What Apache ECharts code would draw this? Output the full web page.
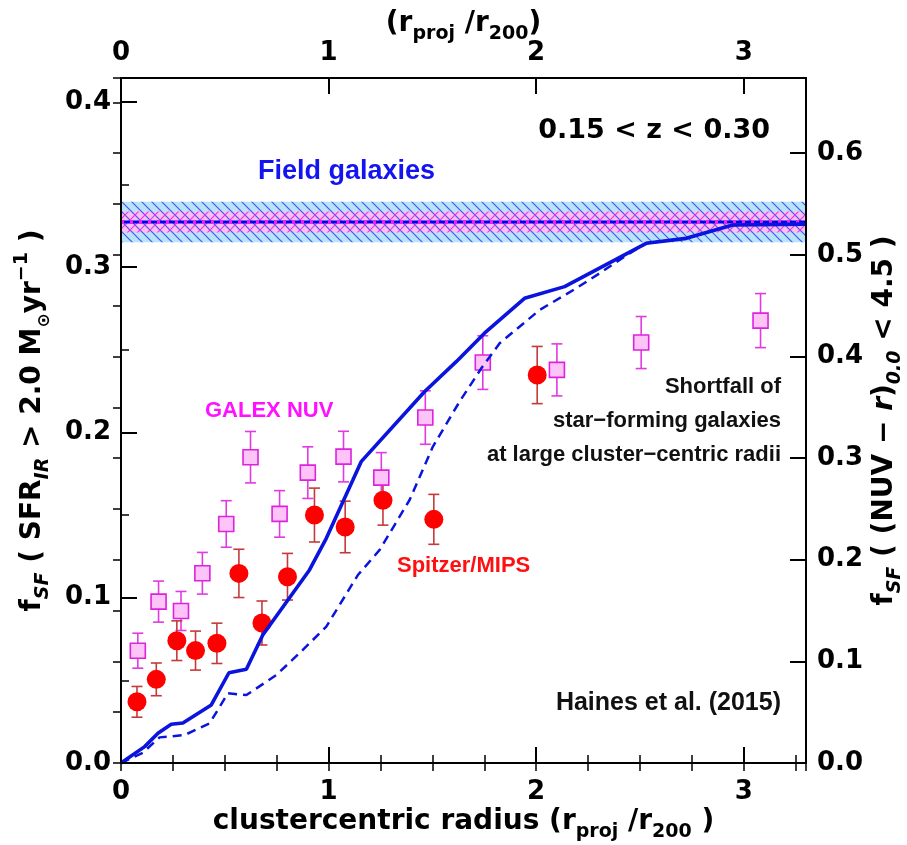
<!DOCTYPE html>
<html>
<head>
<meta charset="utf-8">
<script src="https://cdn.jsdelivr.net/npm/echarts@6/dist/echarts.min.js"></script>
<style>
html, body { margin: 0; padding: 0; background: #fff; }
#chart { width: 907px; height: 845px; }
</style>
</head>
<body>
<div id="chart"></div>
<script>
// axis ranges / ticks
var xMax = 3.3;
var xTicks = [0, 1, 2, 3];
var yLeftMax = 0.4144;
var yRightMax = 0.674;

// Spitzer/MIPS (left axis)
var radiusIR = [0.077, 0.170, 0.269, 0.359, 0.462, 0.568, 0.679, 0.802, 0.932, 1.080, 1.262, 1.507, 2.005];
var fracIR   = [0.037, 0.0506, 0.074, 0.068, 0.0724, 0.1147, 0.0847, 0.1127, 0.150, 0.1428, 0.159, 0.1474, 0.2347];
var errIR    = [0.0093, 0.0099, 0.012, 0.0118, 0.0122, 0.0146, 0.0133, 0.0141, 0.0163, 0.0156, 0.0151, 0.0151, 0.0173];

// GALEX NUV (right axis)
var radiusNUV = [0.081, 0.181, 0.289, 0.392, 0.507, 0.624, 0.764, 0.900, 1.072, 1.254, 1.466, 1.743, 2.100, 2.506, 3.081];
var fracNUV   = [0.1105, 0.1588, 0.1496, 0.1867, 0.2352, 0.3009, 0.2451, 0.2857, 0.3015, 0.2808, 0.3399, 0.394, 0.3868, 0.4137, 0.4353];
var errNUV    = [0.0172, 0.0202, 0.0192, 0.0205, 0.0229, 0.0253, 0.0229, 0.0254, 0.0249, 0.0246, 0.0263, 0.0264, 0.0256, 0.0256, 0.0266];

// model curves (left axis)
var modelX  = [0, 0.114, 0.178, 0.242, 0.298, 0.435, 0.52, 0.604, 0.683, 0.908, 0.989, 1.117, 1.157, 1.462, 1.615, 1.751, 1.944, 2.137, 2.53, 2.723, 2.947, 3.3];
var modelY  = [0, 0.0099, 0.018, 0.0234, 0.0242, 0.0351, 0.0546, 0.0567, 0.0774, 0.1168, 0.1359, 0.1712, 0.1823, 0.2246, 0.2428, 0.26, 0.2811, 0.2882, 0.3144, 0.3174, 0.3255, 0.326];
var model2X = [0, 0.105, 0.186, 0.306, 0.427, 0.515, 0.604, 0.748, 0.876, 0.989, 1.141, 1.246, 1.39, 1.502, 1.631, 1.736, 1.824, 2.016, 2.193, 2.305, 2.45, 2.53, 2.723, 2.947, 3.3];
var model2Y = [0, 0.0062, 0.0155, 0.0169, 0.024, 0.0422, 0.0411, 0.0532, 0.0684, 0.0825, 0.1137, 0.1289, 0.1591, 0.1913, 0.2186, 0.2388, 0.2539, 0.274, 0.2872, 0.2962, 0.3083, 0.3144, 0.3174, 0.3255, 0.326];

// field galaxies
var fieldIR = 0.3273, fieldIRErr = 0.0123;
var fieldNUV = 0.5323, fieldNUVErr = 0.0103;

var NUM = '"DejaVu Sans"';
var TXT = '"Liberation Sans"';

function zip(a, b, c) {
    return a.map(function (v, i) { return c ? [v, b[i], c[i]] : [v, b[i]]; });
}

function hatch(color, dir) {
    var c = document.createElement('canvas');
    c.width = 10; c.height = 10;
    var ctx = c.getContext('2d');
    ctx.strokeStyle = color;
    ctx.lineWidth = 1.2;
    ctx.beginPath();
    if (dir > 0) {
        ctx.moveTo(-2, -2); ctx.lineTo(12, 12);
        ctx.moveTo(-2, 8); ctx.lineTo(2, 12);
        ctx.moveTo(8, -2); ctx.lineTo(12, 2);
    } else {
        ctx.moveTo(-2, 12); ctx.lineTo(12, -2);
        ctx.moveTo(-2, 2); ctx.lineTo(2, -2);
        ctx.moveTo(8, 12); ctx.lineTo(12, 8);
    }
    ctx.stroke();
    return { type: 'pattern', image: c, repeat: 'repeat' };
}

function band(yIdx, center, err, fill) {
    return {
        type: 'custom', xAxisIndex: 0, yAxisIndex: yIdx, silent: true,
        data: [[0, center]],
        renderItem: function (params, api) {
            var p1 = api.coord([0, center + err]);
            var p2 = api.coord([xMax, center - err]);
            return {
                type: 'rect',
                shape: { x: p1[0], y: p1[1], width: p2[0] - p1[0], height: p2[1] - p1[1] },
                style: { fill: fill }
            };
        }
    };
}

function errBars(yIdx, data, color) {
    return {
        type: 'custom', xAxisIndex: 0, yAxisIndex: yIdx, silent: true,
        data: data,
        encode: { x: 0, y: 1 },
        renderItem: function (params, api) {
            var x = api.value(0), y = api.value(1), e = api.value(2);
            var t = api.coord([x, y + e]);
            var b = api.coord([x, y - e]);
            var w = 5.5;
            var st = { stroke: color, lineWidth: 1.6 };
            return {
                type: 'group',
                children: [
                    { type: 'line', shape: { x1: t[0], y1: t[1], x2: b[0], y2: b[1] }, style: st },
                    { type: 'line', shape: { x1: t[0] - w, y1: t[1], x2: t[0] + w, y2: t[1] }, style: st },
                    { type: 'line', shape: { x1: b[0] - w, y1: b[1], x2: b[0] + w, y2: b[1] }, style: st }
                ]
            };
        }
    };
}

var nameRich = {
    n: { fontFamily: NUM, fontWeight: 'bold', fontSize: 28, color: '#000', lineHeight: 40 },
    i: { fontFamily: NUM, fontWeight: 'bold', fontStyle: 'italic', fontSize: 28, color: '#000', lineHeight: 40 },
    s: { fontFamily: NUM, fontWeight: 'bold', fontStyle: 'italic', fontSize: 19, color: '#000', lineHeight: 20, verticalAlign: 'bottom' },
    b: { fontFamily: NUM, fontWeight: 'bold', fontSize: 19, color: '#000', lineHeight: 20, verticalAlign: 'bottom' },
    p: { fontFamily: NUM, fontWeight: 'bold', fontSize: 19, color: '#000', lineHeight: 18, verticalAlign: 'top' },
    o: { fontFamily: NUM, fontWeight: 'bold', fontSize: 17, color: '#000', lineHeight: 22, verticalAlign: 'bottom' }
};

var tickStyle = { color: '#000', width: 2 };
var minorStyle = { color: '#000', width: 1.5 };

function majorAxis(extra) {
    var a = {
        type: 'value', gridIndex: 0, z: 10,
        axisLine: { onZero: false, lineStyle: tickStyle },
        axisTick: { inside: true, length: 16, lineStyle: tickStyle },
        splitLine: { show: false },
        nameLocation: 'middle', nameMoveOverlap: false,
        nameTextStyle: { rich: nameRich }
    };
    for (var k in extra) a[k] = extra[k];
    return a;
}

function minorAxis(extra) {
    var a = {
        type: 'value', gridIndex: 1, z: 10,
        axisLine: { show: false },
        axisTick: { inside: true, length: 8, lineStyle: minorStyle },
        axisLabel: { show: false },
        splitLine: { show: false }
    };
    for (var k in extra) a[k] = extra[k];
    return a;
}

function numLabel(margin, digits, maxV) {
    return {
        fontFamily: NUM, fontWeight: 'bold', fontSize: 26, color: '#000', margin: margin,
        showMaxLabel: false,
        formatter: function (v) {
            if (Math.abs(v - maxV) < 1e-6) return '';
            return digits ? v.toFixed(digits) : String(Math.round(v));
        }
    };
}

var myChart = echarts.init(document.getElementById('chart'));

var option = {
    animation: false,
    backgroundColor: '#fff',
    grid: [
        { left: 121, right: 101, top: 78, bottom: 82, outerBoundsMode: 'none' },
        { left: 121, right: 101, top: 78, bottom: 82, outerBoundsMode: 'none' }
    ],
    xAxis: [
        majorAxis({ position: 'bottom', min: 0, max: xMax, interval: 1,
            axisLabel: numLabel(16, 0, xMax),
            name: '{n|clustercentric radius (r}{b|proj}{n| /r}{b|200}{n| )}', nameGap: 39 }),
        majorAxis({ position: 'top', min: 0, max: xMax, interval: 1,
            axisLabel: numLabel(12, 0, xMax),
            name: '{n|(r}{b|proj}{n| /r}{b|200}{n|)}', nameGap: 34 }),
        minorAxis({ position: 'bottom', min: 0, max: xMax, interval: 0.25 }),
        minorAxis({ position: 'top', min: 0, max: xMax, interval: 0.25 })
    ],
    yAxis: [
        majorAxis({ position: 'left', min: 0, max: yLeftMax, interval: 0.1,
            axisLabel: numLabel(10, 1, yLeftMax), nameRotate: 90, nameGap: 68,
            name: '{n|f}{s|SF}{n| ( SFR}{s|IR}{n| > 2.0 M}{o|⊙}{n|yr}{p|−1}{n| )}' }),
        majorAxis({ position: 'right', min: 0, max: yRightMax, interval: 0.1,
            axisLabel: numLabel(11, 1, yRightMax), nameRotate: 90, nameGap: 59,
            name: '{n|f}{s|SF}{n| ( (NUV − }{i|r}{n|)}{s|0.0}{n| < 4.5 )}' }),
        minorAxis({ position: 'left', min: 0, max: yLeftMax, interval: 0.05 }),
        minorAxis({ position: 'right', min: 0, max: yRightMax, interval: 0.05 })
    ],
    series: [
        band(0, fieldIR, fieldIRErr, '#b8e4fa'),
        band(1, fieldNUV, fieldNUVErr, '#fcbdf1'),
        band(0, fieldIR, fieldIRErr, hatch('#4a55ee', 1)),
        band(1, fieldNUV, fieldNUVErr, hatch('#e63ce6', -1)),
        {
            type: 'line', xAxisIndex: 0, yAxisIndex: 0, symbol: 'none', silent: true,
            data: [[0, fieldIR], [xMax, fieldIR]],
            lineStyle: { color: '#0000ee', width: 3 }
        },
        {
            type: 'line', xAxisIndex: 0, yAxisIndex: 1, symbol: 'none', silent: true,
            data: [[0, fieldNUV], [xMax, fieldNUV]],
            lineStyle: { color: '#ee22ee', width: 4, type: [3, 6] }
        },
        {
            type: 'line', xAxisIndex: 0, yAxisIndex: 0, symbol: 'none', silent: true,
            data: zip(model2X, model2Y),
            lineStyle: { color: '#0a14dc', width: 2.5, type: [9, 6] }
        },
        {
            type: 'line', xAxisIndex: 0, yAxisIndex: 0, symbol: 'none', silent: true,
            data: zip(modelX, modelY),
            lineStyle: { color: '#0a14dc', width: 3.6 }
        },
        errBars(1, zip(radiusNUV, fracNUV, errNUV), '#e23ae2'),
        {
            type: 'scatter', xAxisIndex: 0, yAxisIndex: 1, symbol: 'rect', symbolSize: 15,
            data: zip(radiusNUV, fracNUV),
            itemStyle: { color: '#ffc4f7', borderColor: '#dd22dd', borderWidth: 1.6, opacity: 1 }
        },
        errBars(0, zip(radiusIR, fracIR, errIR), '#c43a3a'),
        {
            type: 'scatter', xAxisIndex: 0, yAxisIndex: 0, symbol: 'circle', symbolSize: 19,
            data: zip(radiusIR, fracIR),
            itemStyle: { color: '#ff0000', opacity: 1 }
        },
        { type: 'scatter', xAxisIndex: 2, yAxisIndex: 2, data: [] }
    ],
    graphic: [
        { type: 'text', x: 770, y: 131, style: { text: '0.15 < z < 0.30', font: 'bold 27px ' + NUM, fill: '#000', align: 'right', verticalAlign: 'middle' } },
        { type: 'text', x: 258, y: 172, style: { text: 'Field galaxies', font: 'bold 27px ' + TXT, fill: '#1414f0', align: 'left', verticalAlign: 'middle' } },
        { type: 'text', x: 205, y: 411, style: { text: 'GALEX NUV', font: 'bold 22px ' + TXT, fill: '#ff10ff', align: 'left', verticalAlign: 'middle' } },
        { type: 'text', x: 397, y: 566, style: { text: 'Spitzer/MIPS', font: 'bold 22px ' + TXT, fill: '#ff1010', align: 'left', verticalAlign: 'middle' } },
        { type: 'text', x: 781, y: 387, style: { text: 'Shortfall of', font: 'bold 22px ' + TXT, fill: '#111', align: 'right', verticalAlign: 'middle' } },
        { type: 'text', x: 781, y: 421, style: { text: 'star\u2212forming galaxies', font: 'bold 22px ' + TXT, fill: '#111', align: 'right', verticalAlign: 'middle' } },
        { type: 'text', x: 781, y: 455, style: { text: 'at large cluster\u2212centric radii', font: 'bold 22px ' + TXT, fill: '#111', align: 'right', verticalAlign: 'middle' } },
        { type: 'text', x: 781, y: 703, style: { text: 'Haines et al. (2015)', font: 'bold 25px ' + TXT, fill: '#111', align: 'right', verticalAlign: 'middle' } }
    ]
};

myChart.setOption(option);
</script>
</body>
</html>
